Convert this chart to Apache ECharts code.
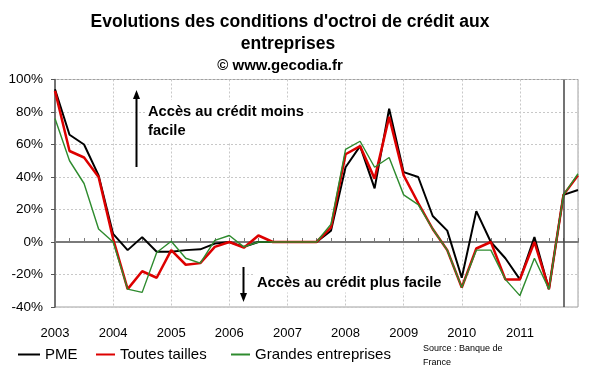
<!DOCTYPE html>
<html>
<head>
<meta charset="utf-8">
<script src="https://cdn.jsdelivr.net/npm/echarts@6/dist/echarts.min.js"></script>
<style>html,body{margin:0;padding:0;background:#fff;}#c{width:600px;height:372px;}</style>
</head>
<body>
<div id="c"></div>
<script>
// Quarterly data, 2003 T1 .. 2012 T1
const startYear = 2003;
const nQuarters = 37;
const quarters = [];
for (let i = 0; i < nQuarters; i++) {
  quarters.push((startYear + Math.floor(i / 4)) + ' T' + (i % 4 + 1));
}
const yearTicks = ['2003','2004','2005','2006','2007','2008','2009','2010','2011'];

const pme = [94, 66, 60, 41,   5, -5, 3, -6,   -6, -5, -4.5, -1,   0, -3, 0, 0,   0, 0, 0, 7,
             46, 59, 33, 82,   43, 40, 16, 7,   -22, 19, 0, -10,   -23, 3, -29, 29,   32];
const toutes = [93, 56, 52, 40,   2, -29, -18, -22,   -5, -14, -13, -3,   0, -3.5, 4, 0,   0, 0, 0, 9,
                54, 59, 39, 77,   41, 24, 8, -5,   -28, -4, 0, -23,   -23, 0, -29, 29,   41];
const grandes = [76, 50, 36, 8,   0, -29, -31, -6.5,   0.5, -10, -13, 1,   4, -3, 0, 0,   0, 0, 0, 11,
                 57, 62, 46, 52,   29, 23, 8, -5,   -28, -5, -5, -23,   -33, -10, -29, 29,   42];

const yMin = -40, yMax = 100, yStep = 20;
const FONT = 'Liberation Sans, Arial, sans-serif';
const legendText = {fontFamily: FONT, fontSize: 15, color: '#000'};

const chart = echarts.init(document.getElementById('c'), null, {renderer: 'canvas'});
chart.setOption({
  animation: false,
  backgroundColor: '#fff',
  title: [
    {text: "Evolutions des conditions d'octroi de crédit aux", left: 290, top: 12, textAlign: 'center', padding: 0,
     textStyle: {fontFamily: FONT, fontSize: 17.5, fontWeight: 'bold', color: '#000', lineHeight: 20}},
    {text: 'entreprises', left: 288, top: 34.5, textAlign: 'center', padding: 0,
     textStyle: {fontFamily: FONT, fontSize: 17.5, fontWeight: 'bold', color: '#000', lineHeight: 20}},
    {text: '© www.gecodia.fr', left: 280, top: 57, textAlign: 'center', padding: 0,
     textStyle: {fontFamily: FONT, fontSize: 15, fontWeight: 'bold', color: '#000', lineHeight: 18}}
  ],
  grid: {left: 55, right: 22, top: 79.5, bottom: 65, show: true, borderColor: '#a0a0a0', borderWidth: 1, backgroundColor: 'transparent'},
  legend: [
    {left: 18, top: 347, padding: 0, itemWidth: 22, itemHeight: 2, icon: 'rect', itemGap: 0,
     textStyle: legendText, data: ['PME']},
    {left: 96, top: 347, padding: 0, itemWidth: 19, itemHeight: 2, icon: 'rect', itemGap: 0,
     textStyle: legendText, data: ['Toutes tailles']},
    {left: 231, top: 347, padding: 0, itemWidth: 19, itemHeight: 2, icon: 'rect', itemGap: 0,
     textStyle: legendText, data: ['Grandes entreprises']}
  ],
  xAxis: [
    {type: 'category', data: quarters, boundaryGap: false, gridIndex: 0,
     axisLine: {show: false, onZero: false}, axisTick: {show: false},
     axisLabel: {interval: 3, margin: 20, fontFamily: FONT, fontSize: 13, color: '#000',
       formatter: function (v) { const y = v.slice(0, 4); return yearTicks.indexOf(y) >= 0 ? y : ''; }},
     splitLine: {show: true, interval: 3, lineStyle: {color: '#c8c8c8', type: [2, 2], width: 1}}},
    {type: 'category', data: quarters, boundaryGap: false, gridIndex: 0, position: 'bottom',
     axisLine: {show: true, onZero: true, lineStyle: {color: '#7a7a7a', width: 2}},
     axisTick: {show: true, inside: true, interval: 0, length: 4, lineStyle: {color: '#7a7a7a', width: 1}},
     axisLabel: {show: false}, splitLine: {show: false}}
  ],
  yAxis: {
    type: 'value', min: yMin, max: yMax, interval: yStep,
    axisLine: {show: true, lineStyle: {color: '#555', width: 1.5}},
    axisTick: {show: true, length: 4, lineStyle: {color: '#555'}},
    axisLabel: {margin: 12, fontFamily: FONT, fontSize: 13.5, color: '#000', formatter: '{value}%'},
    splitLine: {show: true, lineStyle: {color: '#c8c8c8', type: [2, 2], width: 1}}
  },
  series: [
    {name: 'PME', type: 'line', data: pme, xAxisIndex: 0, symbol: 'none', z: 3,
     lineStyle: {color: '#000', width: 2}, itemStyle: {color: '#000'},
     markLine: {silent: true, symbol: 'none', label: {show: false},
       lineStyle: {color: '#444', width: 1.5, type: 'solid'},
       data: [{xAxis: '2011 T4'}]}},
    {name: 'Toutes tailles', type: 'line', data: toutes, xAxisIndex: 0, symbol: 'none', z: 4,
     lineStyle: {color: '#dd0000', width: 2.5}, itemStyle: {color: '#dd0000'}},
    {name: 'Grandes entreprises', type: 'line', data: grandes, xAxisIndex: 0, symbol: 'none', z: 5,
     lineStyle: {color: '#2e8b2e', width: 1.4}, itemStyle: {color: '#2e8b2e'}}
  ],
  graphic: [
    {type: 'line', z: 100, shape: {x1: 136.5, y1: 167, x2: 136.5, y2: 97}, style: {stroke: '#000', lineWidth: 2}},
    {type: 'polygon', z: 100, shape: {points: [[136.5, 90], [133, 99], [140, 99]]}, style: {fill: '#000'}},
    {type: 'text', z: 100, x: 146, y: 100, style: {text: 'Accès au crédit moins\nfacile', font: 'bold 14.7px ' + FONT, fill: '#000', lineHeight: 19.5, textVerticalAlign: 'top', backgroundColor: '#fff', padding: [2, 2, 2, 2]}},
    {type: 'line', z: 100, shape: {x1: 243.5, y1: 267, x2: 243.5, y2: 294}, style: {stroke: '#000', lineWidth: 2}},
    {type: 'polygon', z: 100, shape: {points: [[243.5, 302], [240, 293], [247, 293]]}, style: {fill: '#000'}},
    {type: 'text', z: 100, x: 255, y: 283, style: {text: 'Accès au crédit plus facile', font: 'bold 14.7px ' + FONT, fill: '#000', textVerticalAlign: 'middle', backgroundColor: '#fff', padding: [2, 2, 2, 2]}},
    {type: 'text', z: 100, x: 423, y: 342, style: {text: 'Source : Banque de\nFrance', font: '9px ' + FONT, fill: '#000', lineHeight: 14, textVerticalAlign: 'top'}}
  ]
});
</script>
</body>
</html>
